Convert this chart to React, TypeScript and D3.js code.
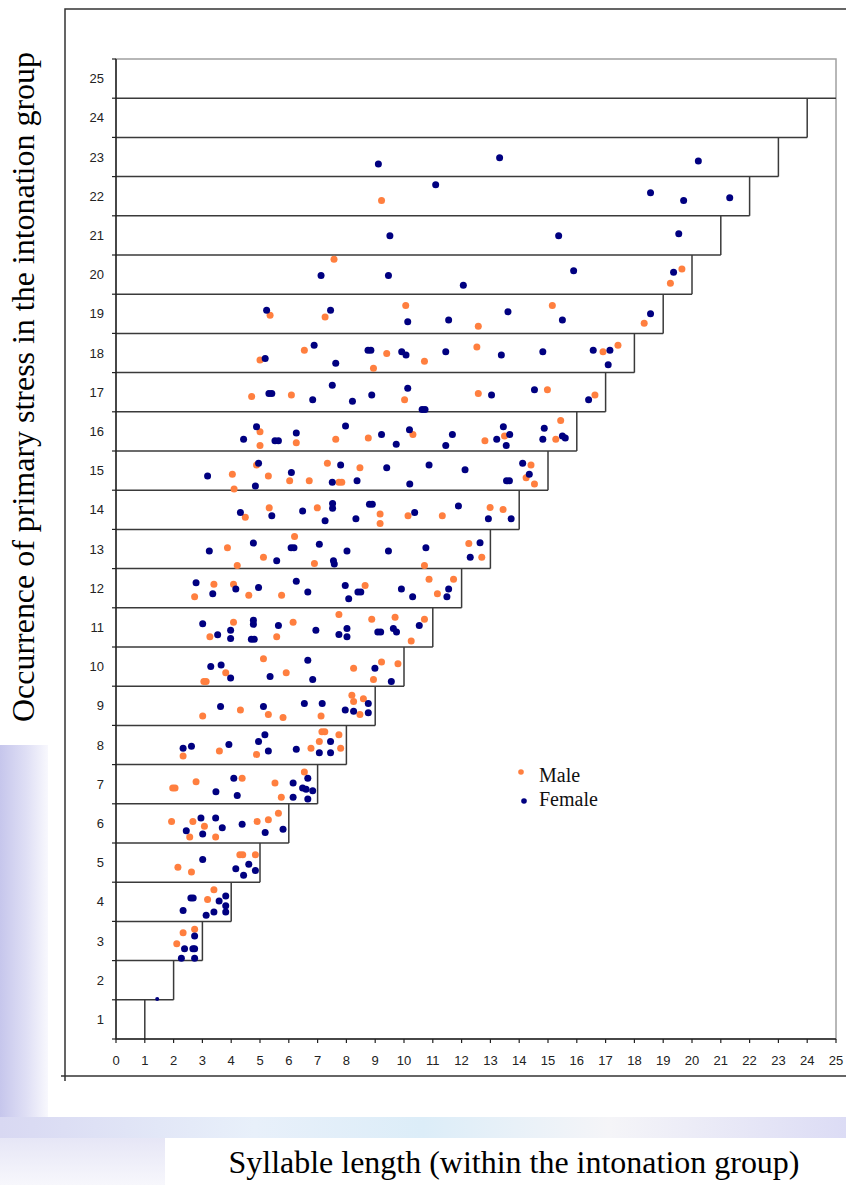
import React from 'react';
import * as d3 from 'd3';

// 軸の目盛り
const xTicks = d3.range(0, 26);
const yTicks = d3.range(1, 26);
const rows = d3.range(1, 26);

// 男性 (x = 音節数, y = 主強勢の位置)
const malePoints: [number, number][] = [
  [9.22, 21.89],
  [7.57, 20.39], [19.65, 20.14], [19.25, 19.78],
  [5.35, 18.96], [7.26, 18.92], [10.06, 19.21], [12.58, 18.68], [15.15, 19.21], [18.34, 18.76],
  [6.54, 18.07], [5.0, 17.82], [8.94, 17.61], [9.4, 17.99], [10.71, 17.79], [12.53, 18.15], [16.91, 18.03], [17.43, 18.2],
  [4.71, 16.89], [6.09, 16.93], [10.02, 16.81], [12.58, 16.97], [14.98, 17.06], [16.63, 16.93],
  [5.0, 15.99], [5.0, 15.64], [6.26, 15.71], [7.63, 15.8], [8.76, 15.83], [10.31, 15.92], [12.81, 15.76], [13.49, 15.88], [15.44, 16.28], [15.27, 15.8],
  [4.04, 14.91], [4.1, 14.53], [4.88, 15.14], [5.29, 14.86], [6.03, 14.74], [6.71, 14.74], [7.34, 15.19], [7.74, 14.7], [7.84, 14.7], [8.47, 15.07], [14.41, 15.14], [14.24, 14.82], [14.53, 14.66],
  [4.49, 13.81], [5.32, 14.05], [6.99, 14.05], [9.17, 13.89], [9.17, 13.65], [10.14, 13.85], [11.33, 13.85], [12.99, 14.06], [13.44, 14.01],
  [3.87, 13.03], [4.21, 12.58], [5.12, 12.79], [6.2, 13.32], [6.89, 12.63], [10.71, 12.58], [12.25, 13.14], [12.7, 12.79],
  [2.73, 11.78], [3.4, 12.1], [4.08, 12.1], [4.61, 11.82], [5.75, 11.82], [8.65, 12.07], [10.87, 12.23], [11.16, 11.86], [11.72, 12.23],
  [3.26, 10.76], [4.08, 11.13], [5.58, 10.76], [6.15, 11.13], [7.74, 11.33], [8.88, 11.21], [9.69, 11.26], [10.25, 10.65], [10.71, 11.21],
  [3.05, 9.62], [3.13, 9.62], [3.81, 9.84], [5.12, 10.2], [5.91, 9.84], [8.25, 9.96], [8.94, 9.67], [9.22, 10.12], [9.79, 10.07],
  [3.01, 8.74], [4.32, 8.89], [5.29, 8.78], [5.8, 8.7], [7.12, 8.74], [8.19, 9.27], [8.25, 9.11], [8.59, 9.18], [8.47, 8.78],
  [2.33, 7.72], [3.59, 7.85], [4.88, 7.76], [6.77, 7.92], [7.06, 8.09], [7.15, 8.34], [7.25, 8.34], [7.74, 8.26], [7.8, 7.92],
  [1.97, 6.9], [2.05, 6.9], [2.78, 7.06], [4.38, 7.15], [5.52, 7.03], [5.74, 6.67], [6.54, 7.31],
  [1.93, 6.05], [2.56, 5.65], [2.67, 6.05], [3.07, 5.93], [3.46, 5.65], [4.9, 6.05], [5.29, 6.09], [5.64, 6.26],
  [2.15, 4.88], [2.62, 4.76], [4.3, 5.2], [4.4, 5.2], [4.84, 5.2],
  [3.4, 4.31], [3.18, 4.06],
  [2.73, 3.3], [2.33, 3.21], [2.11, 2.93],
];

// 女性
const femalePoints: [number, number][] = [
  [9.11, 22.82], [13.32, 22.98], [20.22, 22.9],
  [11.1, 22.29], [18.56, 22.09], [19.71, 21.89], [21.31, 21.96],
  [9.51, 20.99], [15.37, 20.99], [19.54, 21.04],
  [7.12, 19.98], [9.46, 19.98], [15.89, 20.1], [19.36, 20.06], [12.06, 19.73],
  [5.23, 19.09], [7.45, 19.09], [10.13, 18.8], [11.55, 18.84], [13.61, 19.05], [15.5, 18.84], [18.56, 19.0],
  [6.88, 18.2], [5.18, 17.86], [7.63, 17.74], [8.75, 18.07], [8.85, 18.07], [9.92, 18.03], [10.07, 17.95], [11.45, 18.03], [13.38, 17.95], [14.82, 18.03], [16.57, 18.07], [17.15, 18.07], [17.09, 17.7],
  [5.31, 16.97], [5.41, 16.97], [6.83, 16.81], [7.51, 17.18], [8.21, 16.77], [8.88, 16.93], [10.13, 17.1], [10.63, 16.56], [10.73, 16.56], [13.04, 16.93], [14.53, 17.06], [16.41, 16.81],
  [4.43, 15.8], [4.88, 16.12], [5.52, 15.76], [5.64, 15.76], [6.26, 15.96], [7.97, 16.14], [9.22, 15.92], [9.73, 15.67], [10.19, 16.04], [11.45, 15.64], [11.68, 15.92], [13.45, 16.12], [13.22, 15.8], [13.67, 15.92], [13.55, 15.64], [14.87, 16.08], [14.82, 15.8], [15.5, 15.88], [15.6, 15.83],
  [3.18, 14.86], [4.95, 15.19], [4.84, 14.61], [6.09, 14.95], [7.8, 15.14], [7.51, 14.7], [8.37, 14.74], [9.4, 15.07], [10.2, 14.66], [10.87, 15.14], [12.12, 15.02], [14.12, 15.19], [14.35, 14.91], [13.56, 14.74], [13.66, 14.74],
  [4.32, 13.93], [5.41, 13.85], [6.48, 13.97], [7.52, 14.04], [7.52, 14.16], [7.26, 13.72], [8.33, 13.77], [8.8, 14.14], [8.9, 14.14], [10.37, 13.93], [11.89, 14.1], [12.93, 13.77], [13.72, 13.77],
  [3.24, 12.95], [4.77, 13.15], [5.58, 12.7], [6.08, 13.03], [6.18, 13.03], [7.06, 13.12], [7.55, 12.7], [7.58, 12.62], [8.02, 12.95], [9.46, 12.95], [10.76, 13.03], [12.64, 13.16], [12.3, 12.79],
  [2.78, 12.14], [3.36, 11.86], [4.16, 11.98], [4.95, 12.02], [6.26, 12.18], [6.66, 11.9], [7.96, 12.07], [8.08, 11.73], [8.4, 11.9], [8.5, 11.9], [9.91, 11.98], [10.3, 11.78], [11.55, 11.98], [11.49, 11.78],
  [3.01, 11.09], [3.53, 10.81], [3.98, 10.93], [3.98, 10.72], [4.77, 11.08], [4.77, 11.18], [4.7, 10.7], [4.8, 10.7], [5.64, 11.05], [6.94, 10.93], [7.74, 10.82], [8.02, 10.97], [8.02, 10.76], [9.09, 10.88], [9.19, 10.88], [9.63, 10.97], [9.74, 10.88], [10.53, 11.05],
  [3.29, 10.0], [3.65, 10.04], [3.98, 9.71], [5.35, 9.75], [6.66, 10.16], [6.83, 9.67], [8.99, 9.96], [9.56, 9.62],
  [3.63, 8.98], [5.12, 8.98], [6.54, 9.06], [7.16, 9.06], [8.76, 9.06], [7.96, 8.89], [8.25, 8.86], [8.76, 8.82],
  [2.33, 7.92], [2.62, 7.97], [3.92, 8.01], [4.95, 8.09], [5.17, 8.26], [5.29, 7.85], [6.26, 7.89], [7.06, 7.8], [7.45, 8.09], [7.45, 7.8],
  [3.47, 6.81], [4.09, 7.15], [4.21, 6.71], [6.15, 7.03], [6.15, 6.67], [6.66, 7.15], [6.48, 6.9], [6.6, 6.87], [6.83, 6.83], [6.66, 6.62],
  [2.44, 5.81], [2.95, 6.14], [3.01, 5.73], [3.46, 6.14], [3.69, 5.89], [4.38, 5.98], [5.18, 5.77], [5.8, 5.85],
  [3.01, 5.08], [4.16, 4.84], [4.61, 4.96], [4.43, 4.68], [4.84, 4.8],
  [2.6, 4.1], [2.68, 4.1], [3.58, 4.02], [3.81, 4.15], [3.81, 3.9], [3.81, 3.74], [2.33, 3.78], [3.13, 3.66], [3.4, 3.74],
  [2.73, 3.13], [2.38, 2.8], [2.67, 2.8], [2.73, 2.8], [2.27, 2.56], [2.73, 2.56],
  [1.43, 1.52],
];

const legendLabels = ['Male', 'Female'];
const MALE = '#ff7f3f';
const FEMALE = '#000080';

const W = 846;
const H = 1185;

export default function App() {
  const x = d3.scaleLinear().domain([0, 25]).range([116, 836]);
  const y = d3.scaleLinear().domain([0.5, 25.5]).range([1039, 59]);
  const sans = 'Liberation Sans, Arial, sans-serif';
  const serif = 'Liberation Serif, Times New Roman, serif';

  return (
    <svg width={W} height={H} style={{ position: 'absolute', left: 0, top: 0 }}>
      <defs>
        <linearGradient id="wmLeft" x1="0" x2="1" y1="0" y2="0">
          <stop offset="0" stopColor="#c6c6ec" />
          <stop offset="0.55" stopColor="#dfdff5" />
          <stop offset="1" stopColor="#f8f8fd" />
        </linearGradient>
        <linearGradient id="wmBand" x1="0" x2="1" y1="0" y2="0">
          <stop offset="0" stopColor="#d8d8f2" />
          <stop offset="0.3" stopColor="#e8f0fa" />
          <stop offset="0.5" stopColor="#dcedf8" />
          <stop offset="0.72" stopColor="#f5f5f8" />
          <stop offset="1" stopColor="#dcdcf5" />
        </linearGradient>
        <linearGradient id="wmLow" x1="0" x2="0" y1="0" y2="1">
          <stop offset="0" stopColor="#e6e6f6" />
          <stop offset="1" stopColor="#f7f7fc" />
        </linearGradient>
      </defs>
      <rect width={W} height={H} fill="#fff" />

      {/* 背景の透かし */}
      <rect x={0} y={745} width={48} height={372} fill="url(#wmLeft)" />
      <rect x={0} y={1117} width={W} height={21} fill="url(#wmBand)" />
      <rect x={0} y={1138} width={165} height={47} fill="url(#wmLow)" />

      {/* 外枠 */}
      <path d={`M65,1081 V9 H${W}`} fill="none" stroke="#333" strokeWidth={1.5} />
      <line x1={61} x2={W} y1={1076} y2={1076} stroke="#333" strokeWidth={1.5} />

      {/* プロット領域の枠 */}
      <rect x={x(0)} y={y(25.5)} width={x(25) - x(0)} height={y(0.5) - y(25.5)}
        fill="none" stroke="#a0a0a0" strokeWidth={1.5} />

      {/* 階段状のボックス */}
      {rows.filter(k => k < 25).map(k => (
        <g key={k}>
          <line x1={x(0)} x2={x(k + 1)} y1={y(k + 0.5)} y2={y(k + 0.5)} stroke="#3a3a3a" strokeWidth={1.5} />
          <line x1={x(k)} x2={x(k)} y1={y(k - 0.5)} y2={y(k + 0.5)} stroke="#3a3a3a" strokeWidth={1.5} />
        </g>
      ))}

      {/* 軸 */}
      <line x1={x(0)} x2={x(0)} y1={y(0.5)} y2={y(25.5)} stroke="#222" strokeWidth={1.5} />
      <line x1={x(0)} x2={x(25)} y1={y(0.5)} y2={y(0.5)} stroke="#222" strokeWidth={1.5} />
      {d3.range(0.5, 26, 1).map(v => (
        <line key={v} x1={x(0) - 4} x2={x(0)} y1={y(v)} y2={y(v)} stroke="#222" strokeWidth={1.2} />
      ))}
      {xTicks.map(t => (
        <line key={t} x1={x(t)} x2={x(t)} y1={y(0.5)} y2={y(0.5) + 4} stroke="#222" strokeWidth={1.2} />
      ))}
      {yTicks.map(t => (
        <text key={t} x={104} y={y(t)} dy="0.35em" textAnchor="end" fontFamily={sans} fontSize={13} fill="#222">{t}</text>
      ))}
      {xTicks.map(t => (
        <text key={t} x={x(t)} y={1060} dy="0.35em" textAnchor="middle" fontFamily={sans} fontSize={13} fill="#222">{t}</text>
      ))}

      {/* データ点 */}
      {malePoints.map((p, i) => (
        <circle key={'m' + i} cx={x(p[0])} cy={y(p[1])} r={3.5} fill={MALE} />
      ))}
      {femalePoints.map((p, i) => (
        <circle key={'f' + i} cx={x(p[0])} cy={y(p[1])} r={p[0] < 1.5 ? 2 : 3.5} fill={FEMALE} />
      ))}

      {/* 凡例 */}
      {legendLabels.map((lab, i) => (
        <g key={lab} transform={`translate(0, ${i * 24})`}>
          <circle cx={521 + i * 3} cy={772 + i * 5} r={2.8} fill={i === 0 ? MALE : FEMALE} />
          <text x={539} y={782} fontFamily={serif} fontSize={20} fill="#111">{lab}</text>
        </g>
      ))}

      {/* 軸タイトル */}
      <text transform="translate(34, 387) rotate(-90)" textAnchor="middle" fontFamily={serif} fontSize={32}
        fill="#000" textLength={670} lengthAdjust="spacingAndGlyphs">
        Occurrence of primary stress in the intonation group
      </text>
      <text x={514} y={1173} textAnchor="middle" fontFamily={serif} fontSize={31} fill="#000"
        textLength={571} lengthAdjust="spacingAndGlyphs">
        Syllable length (within the intonation group)
      </text>
    </svg>
  );
}
